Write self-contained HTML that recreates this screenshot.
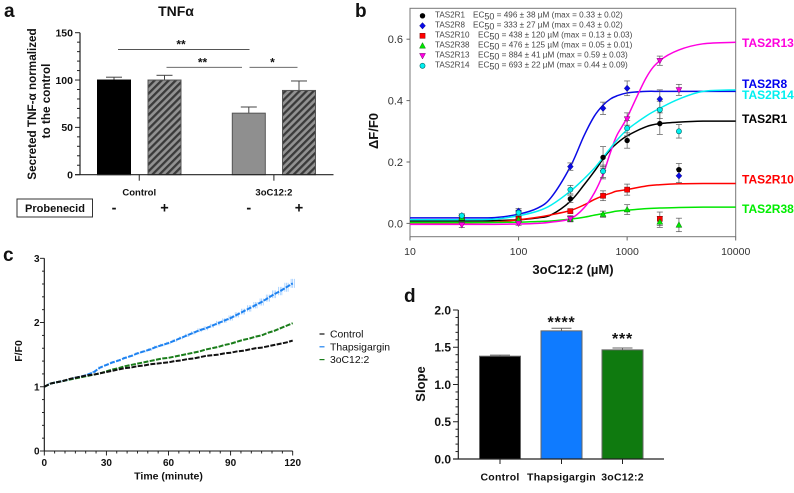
<!DOCTYPE html>
<html><head><meta charset="utf-8"><title>Figure</title>
<style>
html,body{margin:0;padding:0;background:#fff;width:794px;height:493px;overflow:hidden}
svg{display:block;font-family:"Liberation Sans",Arial,sans-serif;filter:blur(0.3px)}
text{fill:#111}
</style></head><body>
<svg id="fig" width="794" height="493" viewBox="0 0 794 493" xmlns="http://www.w3.org/2000/svg">
<defs>
<pattern id="hatch" patternUnits="userSpaceOnUse" width="5" height="5" patternTransform="rotate(45)">
<rect width="5" height="5" fill="#929292"/><rect width="2.3" height="5" fill="#3a3a3a"/>
</pattern>
</defs>
<text x="4" y="17" font-size="19" font-weight="bold">a</text>
<text x="355" y="17" font-size="19" font-weight="bold">b</text>
<text x="3" y="261" font-size="19" font-weight="bold">c</text>
<text x="404" y="302" font-size="19" font-weight="bold">d</text>

<text x="176" y="16" font-size="14" font-weight="bold" text-anchor="middle">TNFα</text>
<text transform="translate(36,104) rotate(-90)" font-size="11.7" font-weight="bold" text-anchor="middle">Secreted TNF-α normalized</text>
<text transform="translate(50,101) rotate(-90)" font-size="11.7" font-weight="bold" text-anchor="middle">to the control</text>
<rect x="17" y="199" width="75.5" height="18" fill="#fff" stroke="#333" stroke-width="1"/>
<text x="55" y="212" font-size="11" font-weight="bold" text-anchor="middle">Probenecid</text>

<g id="a"></g>
<g id="b"></g>
<g id="c"></g>
<g id="d"></g>

<text transform="translate(378,131) rotate(-90)" font-size="13" font-weight="bold" text-anchor="middle">ΔF/F0</text>
<text x="573" y="274" font-size="13" font-weight="bold" text-anchor="middle">3oC12:2 (µM)</text>
<text transform="translate(22,351) rotate(-90)" font-size="10.5" font-weight="bold" text-anchor="middle">F/F0</text>
<text x="168.5" y="479.5" font-size="10.5" font-weight="bold" text-anchor="middle">Time (minute)</text>
<text transform="translate(425,384) rotate(-90)" font-size="13" font-weight="bold" text-anchor="middle">Slope</text>
</svg>
<script>
// ---------- Panel a data ----------
const aGroups = ['Control', '3oC12:2'];
const aValues = [100, 100, 65, 89];
const aErrors = [3, 5, 6.5, 10];
const aSigns = ['-', '+', '-', '+'];
const aTicks = [0, 50, 100, 150];

// ---------- Panel b data ----------
const bSeriesNames = ['TAS2R1', 'TAS2R8', 'TAS2R10', 'TAS2R38', 'TAS2R13', 'TAS2R14'];
const bEc50Text = ['496 ± 38 µM (max = 0.33 ± 0.02)', '333 ± 27 µM (max = 0.43 ± 0.02)', '438 ± 120 µM (max = 0.13 ± 0.03)', '476 ± 125 µM (max = 0.05 ± 0.01)', '884 ± 41 µM (max = 0.59 ± 0.03)', '693 ± 22 µM (max = 0.44 ± 0.09)'];
const bDoses = [30, 100, 300, 600, 1000, 2000, 3000];
const bR1 = [0.02, 0.015, 0.08, 0.215, 0.27, 0.325, 0.175];
const bR8 = [0.025, 0.04, 0.185, 0.375, 0.44, 0.405, 0.155];
const bR10 = [0.02, 0.015, 0.04, 0.09, 0.11, 0.015, null];
const bR38 = [0.018, 0.012, 0.015, 0.03, 0.045, 0.005, -0.005];
const bR13 = [-0.005, 0, 0.015, 0.165, 0.34, 0.53, 0.435];
const bR14 = [0.025, 0.035, 0.11, 0.17, 0.31, 0.37, 0.3];
const bR1Err = [0.006, 0.008, 0.012, 0.035, 0.025, 0.035, 0.02];
const bR8Err = [0.006, 0.008, 0.012, 0.02, 0.024, 0.03, 0.022];
const bR10Err = [0.006, 0.006, 0.006, 0.016, 0.018, 0.022, 0];
const bR38Err = [0.005, 0.005, 0.008, 0.01, 0.016, 0.018, 0.022];
const bR13Err = [0.008, 0.006, 0.01, 0.02, 0.02, 0.015, 0.018];
const bR14Err = [0.006, 0.008, 0.014, 0.02, 0.025, 0.028, 0.022];
const bCurveDoses = [10, 30, 60, 100, 150, 200, 300, 400, 500, 600, 700, 800, 1000, 1500, 2000, 3000, 5000, 10000];
const bR1Curve = [0.008, 0.008, 0.009, 0.012, 0.018, 0.028, 0.072, 0.125, 0.17, 0.21, 0.24, 0.26, 0.285, 0.315, 0.325, 0.33, 0.333, 0.333];
const bR8Curve = [0.018, 0.018, 0.019, 0.03, 0.05, 0.085, 0.185, 0.285, 0.35, 0.385, 0.405, 0.415, 0.425, 0.43, 0.43, 0.43, 0.43, 0.43];
const bR10Curve = [0.002, 0.002, 0.004, 0.012, 0.02, 0.028, 0.042, 0.06, 0.078, 0.09, 0.098, 0.105, 0.11, 0.122, 0.126, 0.129, 0.13, 0.13];
const bR38Curve = [0.003, 0.003, 0.003, 0.004, 0.006, 0.008, 0.014, 0.02, 0.027, 0.032, 0.036, 0.04, 0.043, 0.048, 0.05, 0.052, 0.053, 0.053];
const bR13Curve = [-0.003, -0.003, -0.003, -0.002, 0, 0.004, 0.015, 0.05, 0.1, 0.16, 0.23, 0.285, 0.345, 0.475, 0.53, 0.565, 0.585, 0.59];
const bR14Curve = [0.012, 0.012, 0.014, 0.025, 0.04, 0.06, 0.105, 0.145, 0.18, 0.215, 0.245, 0.27, 0.305, 0.35, 0.375, 0.405, 0.43, 0.435];
const bYTicks = [0, 0.2, 0.4, 0.6];
const bXTicks = [10, 100, 1000, 10000];

// ---------- Panel c data ----------
const cTimes = [0,3,6,9,12,15,18,21,24,27,30,33,36,39,42,45,48,51,54,57,60,63,66,69,72,75,78,81,84,87,90,93,96,99,102,105,108,111,114,117,120];
const cControl = [1.0,1.05,1.07,1.09,1.12,1.14,1.16,1.18,1.19,1.21,1.23,1.25,1.27,1.29,1.30,1.32,1.33,1.35,1.36,1.37,1.38,1.40,1.41,1.43,1.44,1.46,1.48,1.49,1.50,1.52,1.53,1.55,1.56,1.58,1.60,1.61,1.63,1.65,1.67,1.69,1.72];
const cThapsigargin = [1.0,1.05,1.07,1.09,1.11,1.14,1.16,1.19,1.23,1.30,1.34,1.38,1.41,1.45,1.48,1.52,1.55,1.58,1.62,1.65,1.68,1.72,1.76,1.80,1.84,1.88,1.91,1.95,1.99,2.03,2.07,2.12,2.17,2.22,2.27,2.32,2.38,2.44,2.49,2.55,2.61];
const cOxo = [1.0,1.05,1.07,1.09,1.11,1.13,1.15,1.17,1.19,1.21,1.24,1.27,1.29,1.32,1.34,1.36,1.38,1.40,1.42,1.44,1.45,1.47,1.49,1.51,1.53,1.55,1.58,1.60,1.62,1.65,1.67,1.70,1.73,1.75,1.78,1.80,1.84,1.87,1.91,1.95,1.99];
const cThapsErr = [0,0.01,0.01,0.01,0.01,0.01,0.01,0.01,0.015,0.015,0.015,0.015,0.015,0.015,0.015,0.015,0.015,0.02,0.02,0.02,0.02,0.02,0.02,0.025,0.025,0.03,0.03,0.03,0.035,0.035,0.04,0.04,0.045,0.05,0.05,0.055,0.055,0.06,0.065,0.07,0.07];
const cXTicks = [0, 30, 60, 90, 120];
const cYTicks = [0, 1, 2, 3];
const cLegend = ['Control', 'Thapsigargin', '3oC12:2'];

// ---------- Panel d data ----------
const dCategories = ['Control', 'Thapsigargin', '3oC12:2'];
const dValues = [1.38, 1.72, 1.465];
const dErrors = [0.015, 0.035, 0.025];
const dStars = ['', '****', '***'];
const dTicks = ['0.0', '0.5', '1.0', '1.5', '2.0'];

const NS = 'http://www.w3.org/2000/svg';
function mk(parent, tag, attrs, txt) {
  const e = document.createElementNS(NS, tag);
  for (const k in attrs) e.setAttribute(k, attrs[k]);
  if (txt !== undefined) e.textContent = txt;
  parent.appendChild(e);
  return e;
}
function line(parent, x1, y1, x2, y2, stroke, w) {
  return mk(parent, 'line', {x1, y1, x2, y2, stroke, 'stroke-width': w});
}
function named(e, name) {
  
  
  return e;
}
function smooth(pts) {
  let d = 'M' + pts[0][0].toFixed(2) + ',' + pts[0][1].toFixed(2);
  for (let i = 0; i < pts.length - 1; i++) {
    const p0 = pts[Math.max(i - 1, 0)], p1 = pts[i], p2 = pts[i + 1], p3 = pts[Math.min(i + 2, pts.length - 1)];
    const c1x = p1[0] + (p2[0] - p0[0]) / 6, c1y = p1[1] + (p2[1] - p0[1]) / 6;
    const c2x = p2[0] - (p3[0] - p1[0]) / 6, c2y = p2[1] - (p3[1] - p1[1]) / 6;
    d += 'C' + c1x.toFixed(2) + ',' + c1y.toFixed(2) + ' ' + c2x.toFixed(2) + ',' + c2y.toFixed(2) + ' ' + p2[0].toFixed(2) + ',' + p2[1].toFixed(2);
  }
  return d;
}

// ========== Panel a ==========
(function () {
  const g = document.getElementById('a');
  const y = v => 174.7 - v * (142 / 150);
  const barX = [97.5, 148, 232.3, 282.5];
  const barW = 33;
  const fills = ['#000', 'url(#hatch)', '#8f8f8f', 'url(#hatch)'];
  const strokes = ['#000', '#555', '#555', '#555'];
  aValues.forEach((v, i) => {
    const cx = barX[i] + barW / 2;
    const eb = line(g, cx, y(v), cx, y(v + aErrors[i]), '#444', 1);
    named(eb, 'panel-a-error-bar');
    const cap = line(g, cx - 8, y(v + aErrors[i]), cx + 8, y(v + aErrors[i]), '#444', 1);
    named(cap, 'panel-a-error-cap');
    const bar = mk(g, 'rect', {x: barX[i], y: y(v), width: barW, height: y(0) - y(v), fill: fills[i], stroke: strokes[i], 'stroke-width': 1});
    named(bar, 'panel-a-bar');
    const s = mk(g, 'text', {x: cx, y: 212.5, 'font-size': 14.5, 'font-weight': 'bold', 'text-anchor': 'middle'}, aSigns[i]);
    named(s, 'probenecid-sign');
  });
  const ya = line(g, 80, y(150), 80, y(0), '#222', 1.2);
  named(ya, 'panel-a-y-axis');
  const xa = line(g, 75, y(0), 333.5, y(0), '#222', 1.2);
  named(xa, 'panel-a-x-axis');
  for (let v = 0; v <= 150; v += 10) {
    const major = aTicks.includes(v);
    const t = line(g, major ? 75 : 77, y(v), 80, y(v), '#222', 1);
    named(t, 'panel-a-y-tick');
  }
  aTicks.forEach(v => {
    const t = mk(g, 'text', {x: 73, y: y(v) + 3.8, 'font-size': 10.5, 'font-weight': 'bold', 'text-anchor': 'end'}, v);
    named(t, 'panel-a-y-tick-label');
  });
  aGroups.forEach((name, i) => {
    const cx = (barX[i * 2] + barX[i * 2 + 1] + barW) / 2;
    const t = line(g, cx, y(0), cx, y(0) + 6, '#222', 1);
    named(t, 'panel-a-x-tick');
    const l = mk(g, 'text', {x: cx, y: 195.5, 'font-size': 9.5, 'font-weight': 'bold', 'text-anchor': 'middle'}, name);
    named(l, 'panel-a-group-label');
  });
  const sig = [[118, 249.5, 49.5, '**', 181], [166.5, 242, 67.3, '**', 202.5], [249.5, 297.5, 67.3, '*', 272.5]];
  sig.forEach(s => {
    const l = line(g, s[0], s[2], s[1], s[2], '#555', 0.9);
    named(l, 'significance-bracket');
    const t = mk(g, 'text', {x: s[4], y: s[2] - 1, 'font-size': 12, 'font-weight': 'bold', 'text-anchor': 'middle'}, s[3]);
    named(t, 'significance-stars');
  });
})();

// ========== Panel b ==========
(function () {
  const g = document.getElementById('b');
  const x = d => 410 + (Math.log10(d) - 1) * (325.7 / 3);
  const y = v => 223.4 - v * (184.2 / 0.6);
  const frame = mk(g, 'rect', {x: 410, y: 8.3, width: 325.7, height: 228.4, fill: 'none', stroke: '#777', 'stroke-width': 1});
  named(frame, 'panel-b-plot-frame');
  bYTicks.forEach(v => {
    const t = line(g, 406.5, y(v), 410, y(v), '#666', 1);
    named(t, 'panel-b-y-tick');
    const l = mk(g, 'text', {x: 403, y: y(v) + 4, 'font-size': 11, 'text-anchor': 'end', style: 'fill:#333'}, v.toFixed(1));
    named(l, 'panel-b-y-tick-label');
  });
  bXTicks.forEach(v => {
    const t = line(g, x(v), 236.7, x(v), 240.5, '#666', 1);
    named(t, 'panel-b-x-tick');
    const l = mk(g, 'text', {x: x(v), y: 255, 'font-size': 10.5, 'text-anchor': 'middle', style: 'fill:#333'}, v);
    named(l, 'panel-b-x-tick-label');
  });
  const points = [bR1, bR8, bR10, bR38, bR13, bR14];
  const errors = [bR1Err, bR8Err, bR10Err, bR38Err, bR13Err, bR14Err];
  const curves = [bR1Curve, bR8Curve, bR10Curve, bR38Curve, bR13Curve, bR14Curve];
  const colors = ['#000000', '#0a0ae6', '#ff0000', '#00e600', '#ff00e0', '#00f0f0'];
  const labelColors = ['#000000', '#0000ee', '#ff0000', '#00ee00', '#ff00dd', '#00f0f0'];
  const labelY = [123, 88, 183.5, 213, 47, 99];
  const shape = (i, cx, cy, p) => {
    const c = colors[i];
    if (i === 0) return mk(p, 'circle', {cx, cy, r: 2.7, fill: c});
    if (i === 1) return mk(p, 'polygon', {points: [cx, cy - 3.3, cx + 3, cy, cx, cy + 3.3, cx - 3, cy].join(' '), fill: c, stroke: '#003', 'stroke-width': 0.3});
    if (i === 2) return mk(p, 'rect', {x: cx - 2.6, y: cy - 2.6, width: 5.2, height: 5.2, fill: c, stroke: '#600', 'stroke-width': 0.4});
    if (i === 3) return mk(p, 'polygon', {points: [cx, cy - 3.2, cx + 3, cy + 2.4, cx - 3, cy + 2.4].join(' '), fill: c, stroke: '#050', 'stroke-width': 0.4});
    if (i === 4) return mk(p, 'polygon', {points: [cx, cy + 3.2, cx + 3, cy - 2.4, cx - 3, cy - 2.4].join(' '), fill: c, stroke: '#505', 'stroke-width': 0.4});
    return mk(p, 'circle', {cx, cy, r: 2.6, fill: c, stroke: '#066', 'stroke-width': 0.6});
  };
  bSeriesNames.forEach((name, i) => {
    const path = mk(g, 'path', {d: smooth(bCurveDoses.map((d, k) => [x(d), y(curves[i][k])])), fill: 'none', stroke: colors[i], 'stroke-width': 1.5});
    named(path, 'curve-' + name.toLowerCase());
  });
  bSeriesNames.forEach((name, i) => {
    bDoses.forEach((d, k) => {
      const v = points[i][k];
      if (v === null) return;
      const e = errors[i][k];
      const bar = line(g, x(d), y(v - e), x(d), y(v + e), '#555', 0.7);
      named(bar, 'error-bar-' + name.toLowerCase());
      const c1 = line(g, x(d) - 3, y(v - e), x(d) + 3, y(v - e), '#555', 0.7);
      named(c1, 'error-cap-' + name.toLowerCase());
      const c2 = line(g, x(d) - 3, y(v + e), x(d) + 3, y(v + e), '#555', 0.7);
      named(c2, 'error-cap-' + name.toLowerCase());
    });
  });
  bSeriesNames.forEach((name, i) => {
    bDoses.forEach((d, k) => {
      const v = points[i][k];
      if (v === null) return;
      const m = shape(i, x(d), y(v), g);
      named(m, 'point-' + name.toLowerCase());
    });
    const lab = mk(g, 'text', {x: 742, y: labelY[i], 'font-size': 12, 'font-weight': 'bold', style: 'fill:' + labelColors[i]}, name);
    named(lab, 'series-label-' + name.toLowerCase());
    const rowY = 14.8 + i * 10;
    const lm = shape(i, 422.5, rowY + 1, g);
    named(lm, 'legend-marker-' + name.toLowerCase());
    const ln = mk(g, 'text', {x: 435, y: rowY + 2.7, 'font-size': 8.1, style: 'fill:#444'}, name);
    named(ln, 'legend-name-' + name.toLowerCase());
    const lx = name.length > 6 ? 478 : 473;
    const lt = mk(g, 'text', {x: lx, y: rowY + 2.7, 'font-size': 8.2, style: 'fill:#444'});
    named(lt, 'legend-ec50-' + name.toLowerCase());
    mk(lt, 'tspan', {}, 'EC');
    mk(lt, 'tspan', {dy: 2, 'font-size': 9}, '50');
    mk(lt, 'tspan', {dy: -2}, ' =  ' + bEc50Text[i]);
  });
})();

// ========== Panel c ==========
(function () {
  const g = document.getElementById('c');
  const x = t => 44.3 + t * (248.4 / 120);
  const y = v => 451 - v * (192.7 / 3);
  cThapsigargin.forEach((v, i) => {
    const e = cThapsErr[i];
    for (const off of [0, 1, -1]) {
      const b = line(g, x(cTimes[i]) + off * 1.6, y(v - e), x(cTimes[i]) + off * 1.6, y(v + e), '#8fc4ff', 0.7);
      named(b, 'thapsigargin-error-bar');
    }
  });
  const series = [[cThapsigargin, '#1e82f0', 'thapsigargin'], [cOxo, '#1a7d1a', 'oxo-c12'], [cControl, '#111111', 'control']];
  series.forEach(s => {
    const p = mk(g, 'polyline', {points: cTimes.map((t, k) => x(t).toFixed(2) + ',' + y(s[0][k]).toFixed(2)).join(' '), fill: 'none', stroke: s[1], 'stroke-width': 2, 'stroke-dasharray': '5 1.4'});
    named(p, 'series-line-' + s[2]);
  });
  const ya = line(g, 44.3, y(3), 44.3, y(0), '#111', 1.1);
  named(ya, 'panel-c-y-axis');
  const xa = line(g, 44.3, y(0), x(120), y(0), '#111', 1.1);
  named(xa, 'panel-c-x-axis');
  for (let k = 0; k <= 15; k++) {
    const v = k / 5;
    const major = cYTicks.includes(v);
    const t = line(g, major ? 40 : 42, y(v), 44.3, y(v), '#111', 0.9);
    named(t, 'panel-c-y-tick');
  }
  for (let tt = 0; tt <= 120; tt += 5) {
    const major = cXTicks.includes(tt);
    const t = line(g, x(tt), y(0), x(tt), y(0) + (major ? 4.5 : 2.5), '#111', 0.9);
    named(t, 'panel-c-x-tick');
  }
  cYTicks.forEach(v => {
    const t = mk(g, 'text', {x: 39.5, y: y(v) + 3.6, 'font-size': 10, 'font-weight': 'bold', 'text-anchor': 'end'}, v);
    named(t, 'panel-c-y-tick-label');
  });
  cXTicks.forEach(v => {
    const t = mk(g, 'text', {x: x(v), y: 466, 'font-size': 10, 'font-weight': 'bold', 'text-anchor': 'middle'}, v);
    named(t, 'panel-c-x-tick-label');
  });
  const legColors = ['#111111', '#1e82f0', '#1a7d1a'];
  cLegend.forEach((name, i) => {
    const ly = 334 + i * 12.8;
    const m = line(g, 319.5, ly, 324.5, ly, legColors[i], 1.2);
    named(m, 'legend-line');
    const t = mk(g, 'text', {x: 330, y: ly + 3.6, 'font-size': 10.4}, name);
    named(t, 'legend-label');
  });
})();

// ========== Panel d ==========
(function () {
  const g = document.getElementById('d');
  const y = v => 459 - v * (149 / 2);
  const barX = [479.5, 541, 602];
  const barW = 41;
  const fills = ['#000', '#0f7bff', '#0f7a0f'];
  const starLift = [0, 1, 4];
  dValues.forEach((v, i) => {
    const cx = barX[i] + barW / 2;
    const eb = line(g, cx, y(v), cx, y(v + dErrors[i]), '#666', 1);
    named(eb, 'panel-d-error-bar');
    const cap = line(g, cx - 10, y(v + dErrors[i]), cx + 10, y(v + dErrors[i]), '#666', 1);
    named(cap, 'panel-d-error-cap');
    const bar = mk(g, 'rect', {x: barX[i], y: y(v), width: barW, height: y(0) - y(v), fill: fills[i], stroke: '#666', 'stroke-width': 1});
    named(bar, 'panel-d-bar');
    const tick = line(g, cx, y(0), cx, y(0) + 5, '#222', 1);
    named(tick, 'panel-d-x-tick');
    const lab = mk(g, 'text', {x: cx, y: 480.5, 'font-size': 10.5, 'font-weight': 'bold', 'text-anchor': 'middle', style: 'letter-spacing:0.25px'}, dCategories[i]);
    named(lab, 'panel-d-x-label');
    if (dStars[i]) {
      const s = mk(g, 'text', {x: cx, y: y(v + dErrors[i]) - starLift[i], 'font-size': 16, 'font-weight': 'bold', 'text-anchor': 'middle', style: 'letter-spacing:0.8px'}, dStars[i]);
      named(s, 'panel-d-stars');
    }
  });
  const ya = line(g, 458.3, y(2), 458.3, y(0), '#222', 1.2);
  named(ya, 'panel-d-y-axis');
  const xa = line(g, 453, y(0), 664, y(0), '#222', 1.2);
  named(xa, 'panel-d-x-axis');
  for (let k = 0; k <= 20; k++) {
    const major = k % 5 === 0;
    const t = line(g, major ? 453 : 455.5, y(k / 10), 458.3, y(k / 10), '#222', 1);
    named(t, 'panel-d-y-tick');
  }
  dTicks.forEach(v => {
    const t = mk(g, 'text', {x: 451, y: y(parseFloat(v)) + 4.3, 'font-size': 12, 'font-weight': 'bold', 'text-anchor': 'end'}, v);
    named(t, 'panel-d-y-tick-label');
  });
})();
</script>
</body></html>
